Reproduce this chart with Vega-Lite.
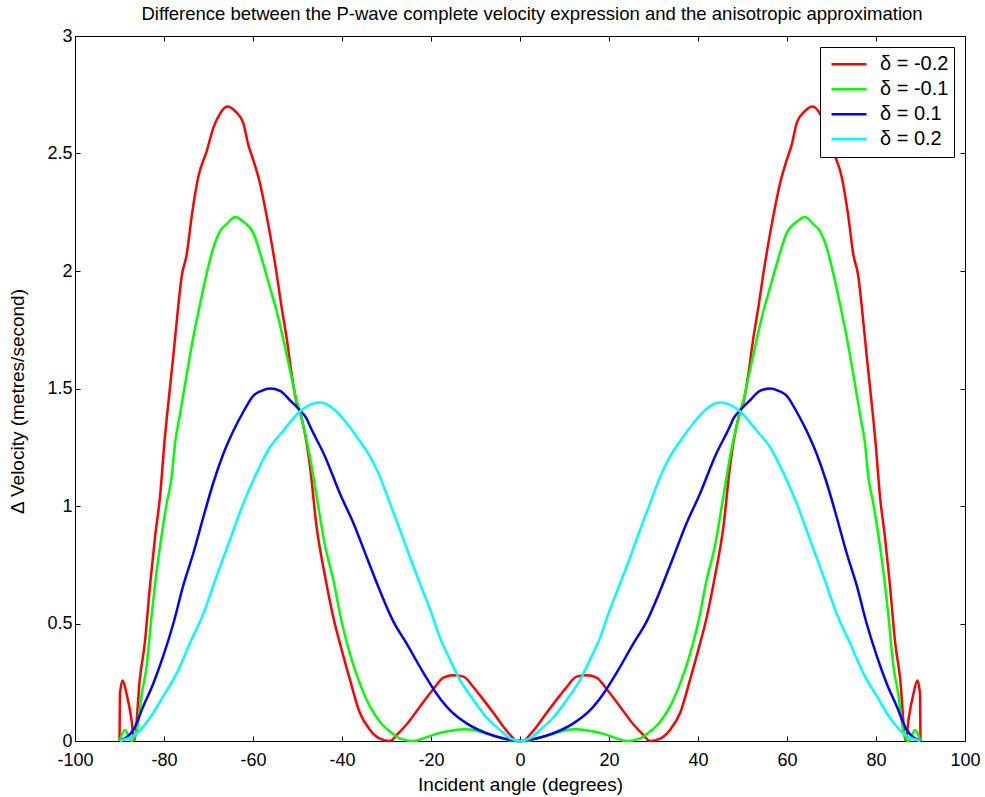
{
  "$schema": "https://vega.github.io/schema/vega-lite/v6.json",
  "width": 890,
  "height": 705,
  "autosize": {"type": "none"},
  "padding": {"left": 75, "top": 36, "right": 20, "bottom": 56},
  "background": "white",
  "title": {"text": "Difference between the P-wave complete velocity expression and the anisotropic approximation", "fontSize": 18.5, "fontWeight": "normal", "font": "Liberation Sans", "offset": 4, "dx": 12, "color": "black"},
  "config": {
    "view": {"stroke": "black", "strokeWidth": 1},
    "axis": {"grid": false, "domainColor": "black", "tickColor": "black", "labelColor": "black", "titleColor": "black", "labelFont": "Liberation Sans", "titleFont": "Liberation Sans", "labelFontSize": 18, "titleFontSize": 19, "titleFontWeight": "normal", "tickSize": -5, "labelPadding": 7, "labelFlush": false, "labelExpr": "'' + datum.value"}
  },
  "data": {"values": [
    {"d":"-0.2","x":-90,"y":0},{"d":"-0.2","x":-89.9,"y":0.2},{"d":"-0.2","x":-89.3,"y":0.257},{"d":"-0.2","x":-88.4,"y":0.2},{"d":"-0.2","x":-87.3,"y":0.09},{"d":"-0.2","x":-86.7,"y":0},{"d":"-0.2","x":-85.4,"y":0.27},{"d":"-0.2","x":-84.3,"y":0.42},{"d":"-0.2","x":-83.1,"y":0.67},{"d":"-0.2","x":-82.0,"y":0.87},{"d":"-0.2","x":-80.9,"y":1.04},{"d":"-0.2","x":-79.9,"y":1.27},{"d":"-0.2","x":-79.4,"y":1.37},{"d":"-0.2","x":-77.9,"y":1.64},{"d":"-0.2","x":-76.8,"y":1.85},{"d":"-0.2","x":-76.0,"y":1.98},{"d":"-0.2","x":-74.9,"y":2.07},{"d":"-0.2","x":-73.8,"y":2.23},{"d":"-0.2","x":-72.3,"y":2.40},{"d":"-0.2","x":-70.4,"y":2.51},{"d":"-0.2","x":-68.9,"y":2.61},{"d":"-0.2","x":-67.4,"y":2.67},{"d":"-0.2","x":-65.8,"y":2.70},{"d":"-0.2","x":-64.0,"y":2.68},{"d":"-0.2","x":-62.2,"y":2.63},{"d":"-0.2","x":-61.1,"y":2.54},{"d":"-0.2","x":-59.9,"y":2.47},{"d":"-0.2","x":-58.4,"y":2.37},{"d":"-0.2","x":-57.3,"y":2.27},{"d":"-0.2","x":-56.2,"y":2.16},{"d":"-0.2","x":-54.7,"y":1.99},{"d":"-0.2","x":-53.6,"y":1.85},{"d":"-0.2","x":-52.4,"y":1.71},{"d":"-0.2","x":-51.3,"y":1.56},{"d":"-0.2","x":-50.2,"y":1.44},{"d":"-0.2","x":-49.6,"y":1.41},{"d":"-0.2","x":-47.2,"y":1.17},{"d":"-0.2","x":-45.7,"y":0.91},{"d":"-0.2","x":-43.8,"y":0.70},{"d":"-0.2","x":-42.0,"y":0.53},{"d":"-0.2","x":-40.1,"y":0.39},{"d":"-0.2","x":-38.2,"y":0.26},{"d":"-0.2","x":-36.0,"y":0.12},{"d":"-0.2","x":-33.7,"y":0.047},{"d":"-0.2","x":-31.5,"y":0.01},{"d":"-0.2","x":-29.2,"y":0},{"d":"-0.2","x":-27.7,"y":0.026},{"d":"-0.2","x":-25.5,"y":0.07},{"d":"-0.2","x":-22.5,"y":0.146},{"d":"-0.2","x":-19.5,"y":0.22},{"d":"-0.2","x":-17.2,"y":0.27},{"d":"-0.2","x":-15.0,"y":0.28},{"d":"-0.2","x":-12.7,"y":0.274},{"d":"-0.2","x":-10.5,"y":0.23},{"d":"-0.2","x":-8.2,"y":0.175},{"d":"-0.2","x":-6.0,"y":0.12},{"d":"-0.2","x":-4.1,"y":0.07},{"d":"-0.2","x":-2.2,"y":0.026},{"d":"-0.2","x":-0.7,"y":0},{"d":"-0.2","x":0,"y":0},
    {"d":"-0.2","x":0.7,"y":0},{"d":"-0.2","x":2.2,"y":0.026},{"d":"-0.2","x":4.1,"y":0.07},{"d":"-0.2","x":6.0,"y":0.12},{"d":"-0.2","x":8.2,"y":0.175},{"d":"-0.2","x":10.5,"y":0.23},{"d":"-0.2","x":12.7,"y":0.274},{"d":"-0.2","x":15.0,"y":0.28},{"d":"-0.2","x":17.2,"y":0.27},{"d":"-0.2","x":19.5,"y":0.22},{"d":"-0.2","x":22.5,"y":0.146},{"d":"-0.2","x":25.5,"y":0.07},{"d":"-0.2","x":27.7,"y":0.026},{"d":"-0.2","x":29.2,"y":0},{"d":"-0.2","x":31.5,"y":0.01},{"d":"-0.2","x":33.7,"y":0.047},{"d":"-0.2","x":36.0,"y":0.12},{"d":"-0.2","x":38.2,"y":0.26},{"d":"-0.2","x":40.1,"y":0.39},{"d":"-0.2","x":42.0,"y":0.53},{"d":"-0.2","x":43.8,"y":0.70},{"d":"-0.2","x":45.7,"y":0.91},{"d":"-0.2","x":47.2,"y":1.17},{"d":"-0.2","x":49.6,"y":1.41},{"d":"-0.2","x":50.2,"y":1.44},{"d":"-0.2","x":51.3,"y":1.56},{"d":"-0.2","x":52.4,"y":1.71},{"d":"-0.2","x":53.6,"y":1.85},{"d":"-0.2","x":54.7,"y":1.99},{"d":"-0.2","x":56.2,"y":2.16},{"d":"-0.2","x":57.3,"y":2.27},{"d":"-0.2","x":58.4,"y":2.37},{"d":"-0.2","x":59.9,"y":2.47},{"d":"-0.2","x":61.1,"y":2.54},{"d":"-0.2","x":62.2,"y":2.63},{"d":"-0.2","x":64.0,"y":2.68},{"d":"-0.2","x":65.8,"y":2.70},{"d":"-0.2","x":67.4,"y":2.67},{"d":"-0.2","x":68.9,"y":2.61},{"d":"-0.2","x":70.4,"y":2.51},{"d":"-0.2","x":72.3,"y":2.40},{"d":"-0.2","x":73.8,"y":2.23},{"d":"-0.2","x":74.9,"y":2.07},{"d":"-0.2","x":76.0,"y":1.98},{"d":"-0.2","x":76.8,"y":1.85},{"d":"-0.2","x":77.9,"y":1.64},{"d":"-0.2","x":79.4,"y":1.37},{"d":"-0.2","x":79.9,"y":1.27},{"d":"-0.2","x":80.9,"y":1.04},{"d":"-0.2","x":82.0,"y":0.87},{"d":"-0.2","x":83.1,"y":0.67},{"d":"-0.2","x":84.3,"y":0.42},{"d":"-0.2","x":85.4,"y":0.27},{"d":"-0.2","x":86.7,"y":0},{"d":"-0.2","x":87.3,"y":0.09},{"d":"-0.2","x":88.4,"y":0.2},{"d":"-0.2","x":89.3,"y":0.257},{"d":"-0.2","x":89.9,"y":0.2},{"d":"-0.2","x":90,"y":0},
    {"d":"-0.1","x":-90,"y":0},{"d":"-0.1","x":-88.8,"y":0.047},{"d":"-0.1","x":-87.3,"y":0},{"d":"-0.1","x":-86.1,"y":0.047},{"d":"-0.1","x":-85.0,"y":0.20},{"d":"-0.1","x":-83.9,"y":0.32},{"d":"-0.1","x":-82.8,"y":0.53},{"d":"-0.1","x":-81.6,"y":0.73},{"d":"-0.1","x":-80.5,"y":0.88},{"d":"-0.1","x":-79.4,"y":1.01},{"d":"-0.1","x":-78.3,"y":1.12},{"d":"-0.1","x":-77.5,"y":1.27},{"d":"-0.1","x":-76.4,"y":1.39},{"d":"-0.1","x":-74.9,"y":1.56},{"d":"-0.1","x":-73.4,"y":1.72},{"d":"-0.1","x":-71.9,"y":1.86},{"d":"-0.1","x":-70.4,"y":1.99},{"d":"-0.1","x":-68.9,"y":2.10},{"d":"-0.1","x":-67.4,"y":2.17},{"d":"-0.1","x":-65.9,"y":2.20},{"d":"-0.1","x":-64.0,"y":2.23},{"d":"-0.1","x":-62.2,"y":2.21},{"d":"-0.1","x":-59.9,"y":2.16},{"d":"-0.1","x":-57.7,"y":2.03},{"d":"-0.1","x":-56.2,"y":1.93},{"d":"-0.1","x":-54.7,"y":1.83},{"d":"-0.1","x":-53.2,"y":1.71},{"d":"-0.1","x":-51.7,"y":1.58},{"d":"-0.1","x":-50.2,"y":1.45},{"d":"-0.1","x":-49.6,"y":1.41},{"d":"-0.1","x":-47.2,"y":1.21},{"d":"-0.1","x":-45.7,"y":1.04},{"d":"-0.1","x":-43.8,"y":0.83},{"d":"-0.1","x":-42.0,"y":0.69},{"d":"-0.1","x":-40.1,"y":0.51},{"d":"-0.1","x":-38.2,"y":0.37},{"d":"-0.1","x":-36.0,"y":0.245},{"d":"-0.1","x":-33.7,"y":0.146},{"d":"-0.1","x":-31.5,"y":0.082},{"d":"-0.1","x":-29.2,"y":0.04},{"d":"-0.1","x":-27.0,"y":0.011},{"d":"-0.1","x":-24.0,"y":0},{"d":"-0.1","x":-21.7,"y":0.011},{"d":"-0.1","x":-19.5,"y":0.026},{"d":"-0.1","x":-16.5,"y":0.04},{"d":"-0.1","x":-12.7,"y":0.05},{"d":"-0.1","x":-9.7,"y":0.044},{"d":"-0.1","x":-6.7,"y":0.026},{"d":"-0.1","x":-3.7,"y":0.011},{"d":"-0.1","x":-1.5,"y":0},{"d":"-0.1","x":0,"y":0},
    {"d":"-0.1","x":1.5,"y":0},{"d":"-0.1","x":3.7,"y":0.011},{"d":"-0.1","x":6.7,"y":0.026},{"d":"-0.1","x":9.7,"y":0.044},{"d":"-0.1","x":12.7,"y":0.05},{"d":"-0.1","x":16.5,"y":0.04},{"d":"-0.1","x":19.5,"y":0.026},{"d":"-0.1","x":21.7,"y":0.011},{"d":"-0.1","x":24.0,"y":0},{"d":"-0.1","x":27.0,"y":0.011},{"d":"-0.1","x":29.2,"y":0.04},{"d":"-0.1","x":31.5,"y":0.082},{"d":"-0.1","x":33.7,"y":0.146},{"d":"-0.1","x":36.0,"y":0.245},{"d":"-0.1","x":38.2,"y":0.37},{"d":"-0.1","x":40.1,"y":0.51},{"d":"-0.1","x":42.0,"y":0.69},{"d":"-0.1","x":43.8,"y":0.83},{"d":"-0.1","x":45.7,"y":1.04},{"d":"-0.1","x":47.2,"y":1.21},{"d":"-0.1","x":49.6,"y":1.41},{"d":"-0.1","x":50.2,"y":1.45},{"d":"-0.1","x":51.7,"y":1.58},{"d":"-0.1","x":53.2,"y":1.71},{"d":"-0.1","x":54.7,"y":1.83},{"d":"-0.1","x":56.2,"y":1.93},{"d":"-0.1","x":57.7,"y":2.03},{"d":"-0.1","x":59.9,"y":2.16},{"d":"-0.1","x":62.2,"y":2.21},{"d":"-0.1","x":64.0,"y":2.23},{"d":"-0.1","x":65.9,"y":2.20},{"d":"-0.1","x":67.4,"y":2.17},{"d":"-0.1","x":68.9,"y":2.10},{"d":"-0.1","x":70.4,"y":1.99},{"d":"-0.1","x":71.9,"y":1.86},{"d":"-0.1","x":73.4,"y":1.72},{"d":"-0.1","x":74.9,"y":1.56},{"d":"-0.1","x":76.4,"y":1.39},{"d":"-0.1","x":77.5,"y":1.27},{"d":"-0.1","x":78.3,"y":1.12},{"d":"-0.1","x":79.4,"y":1.01},{"d":"-0.1","x":80.5,"y":0.88},{"d":"-0.1","x":81.6,"y":0.73},{"d":"-0.1","x":82.8,"y":0.53},{"d":"-0.1","x":83.9,"y":0.32},{"d":"-0.1","x":85.0,"y":0.20},{"d":"-0.1","x":86.1,"y":0.047},{"d":"-0.1","x":87.3,"y":0},{"d":"-0.1","x":88.8,"y":0.047},{"d":"-0.1","x":90,"y":0},
    {"d":"0.1","x":-90,"y":0},{"d":"0.1","x":-86.9,"y":0.047},{"d":"0.1","x":-84.7,"y":0.146},{"d":"0.1","x":-82.4,"y":0.245},{"d":"0.1","x":-80.2,"y":0.36},{"d":"0.1","x":-77.9,"y":0.50},{"d":"0.1","x":-75.7,"y":0.66},{"d":"0.1","x":-73.4,"y":0.80},{"d":"0.1","x":-71.2,"y":0.95},{"d":"0.1","x":-68.9,"y":1.10},{"d":"0.1","x":-66.7,"y":1.22},{"d":"0.1","x":-64.4,"y":1.32},{"d":"0.1","x":-62.2,"y":1.40},{"d":"0.1","x":-59.9,"y":1.47},{"d":"0.1","x":-58.1,"y":1.49},{"d":"0.1","x":-56.2,"y":1.50},{"d":"0.1","x":-53.9,"y":1.49},{"d":"0.1","x":-51.7,"y":1.45},{"d":"0.1","x":-49.6,"y":1.41},{"d":"0.1","x":-47.9,"y":1.37},{"d":"0.1","x":-47.2,"y":1.34},{"d":"0.1","x":-43.8,"y":1.21},{"d":"0.1","x":-40.4,"y":1.05},{"d":"0.1","x":-37.5,"y":0.93},{"d":"0.1","x":-34.4,"y":0.78},{"d":"0.1","x":-31.5,"y":0.64},{"d":"0.1","x":-28.5,"y":0.51},{"d":"0.1","x":-25.5,"y":0.415},{"d":"0.1","x":-21.7,"y":0.29},{"d":"0.1","x":-18.7,"y":0.20},{"d":"0.1","x":-15.7,"y":0.13},{"d":"0.1","x":-12.0,"y":0.075},{"d":"0.1","x":-7.5,"y":0.033},{"d":"0.1","x":-3.7,"y":0.011},{"d":"0.1","x":0,"y":0},
    {"d":"0.1","x":3.7,"y":0.011},{"d":"0.1","x":7.5,"y":0.033},{"d":"0.1","x":12.0,"y":0.075},{"d":"0.1","x":15.7,"y":0.13},{"d":"0.1","x":18.7,"y":0.20},{"d":"0.1","x":21.7,"y":0.29},{"d":"0.1","x":25.5,"y":0.415},{"d":"0.1","x":28.5,"y":0.51},{"d":"0.1","x":31.5,"y":0.64},{"d":"0.1","x":34.4,"y":0.78},{"d":"0.1","x":37.5,"y":0.93},{"d":"0.1","x":40.4,"y":1.05},{"d":"0.1","x":43.8,"y":1.21},{"d":"0.1","x":47.2,"y":1.34},{"d":"0.1","x":47.9,"y":1.37},{"d":"0.1","x":49.6,"y":1.41},{"d":"0.1","x":51.7,"y":1.45},{"d":"0.1","x":53.9,"y":1.49},{"d":"0.1","x":56.2,"y":1.50},{"d":"0.1","x":58.1,"y":1.49},{"d":"0.1","x":59.9,"y":1.47},{"d":"0.1","x":62.2,"y":1.40},{"d":"0.1","x":64.4,"y":1.32},{"d":"0.1","x":66.7,"y":1.22},{"d":"0.1","x":68.9,"y":1.10},{"d":"0.1","x":71.2,"y":0.95},{"d":"0.1","x":73.4,"y":0.80},{"d":"0.1","x":75.7,"y":0.66},{"d":"0.1","x":77.9,"y":0.50},{"d":"0.1","x":80.2,"y":0.36},{"d":"0.1","x":82.4,"y":0.245},{"d":"0.1","x":84.7,"y":0.146},{"d":"0.1","x":86.9,"y":0.047},{"d":"0.1","x":90,"y":0},
    {"d":"0.2","x":-90,"y":0},{"d":"0.2","x":-86.1,"y":0.033},{"d":"0.2","x":-83.1,"y":0.10},{"d":"0.2","x":-80.2,"y":0.19},{"d":"0.2","x":-77.1,"y":0.29},{"d":"0.2","x":-74.2,"y":0.415},{"d":"0.2","x":-71.2,"y":0.54},{"d":"0.2","x":-68.2,"y":0.70},{"d":"0.2","x":-65.2,"y":0.855},{"d":"0.2","x":-62.2,"y":1.01},{"d":"0.2","x":-59.2,"y":1.14},{"d":"0.2","x":-56.2,"y":1.25},{"d":"0.2","x":-53.2,"y":1.32},{"d":"0.2","x":-49.6,"y":1.40},{"d":"0.2","x":-47.2,"y":1.43},{"d":"0.2","x":-44.9,"y":1.44},{"d":"0.2","x":-42.0,"y":1.415},{"d":"0.2","x":-39.7,"y":1.37},{"d":"0.2","x":-36.7,"y":1.295},{"d":"0.2","x":-33.7,"y":1.21},{"d":"0.2","x":-31.5,"y":1.125},{"d":"0.2","x":-29.2,"y":1.01},{"d":"0.2","x":-27.0,"y":0.90},{"d":"0.2","x":-24.7,"y":0.78},{"d":"0.2","x":-22.5,"y":0.67},{"d":"0.2","x":-20.2,"y":0.56},{"d":"0.2","x":-18.0,"y":0.44},{"d":"0.2","x":-15.7,"y":0.345},{"d":"0.2","x":-13.5,"y":0.26},{"d":"0.2","x":-10.5,"y":0.175},{"d":"0.2","x":-7.5,"y":0.10},{"d":"0.2","x":-4.5,"y":0.047},{"d":"0.2","x":-2.2,"y":0.011},{"d":"0.2","x":0,"y":0},
    {"d":"0.2","x":2.2,"y":0.011},{"d":"0.2","x":4.5,"y":0.047},{"d":"0.2","x":7.5,"y":0.10},{"d":"0.2","x":10.5,"y":0.175},{"d":"0.2","x":13.5,"y":0.26},{"d":"0.2","x":15.7,"y":0.345},{"d":"0.2","x":18.0,"y":0.44},{"d":"0.2","x":20.2,"y":0.56},{"d":"0.2","x":22.5,"y":0.67},{"d":"0.2","x":24.7,"y":0.78},{"d":"0.2","x":27.0,"y":0.90},{"d":"0.2","x":29.2,"y":1.01},{"d":"0.2","x":31.5,"y":1.125},{"d":"0.2","x":33.7,"y":1.21},{"d":"0.2","x":36.7,"y":1.295},{"d":"0.2","x":39.7,"y":1.37},{"d":"0.2","x":42.0,"y":1.415},{"d":"0.2","x":44.9,"y":1.44},{"d":"0.2","x":47.2,"y":1.43},{"d":"0.2","x":49.6,"y":1.40},{"d":"0.2","x":53.2,"y":1.32},{"d":"0.2","x":56.2,"y":1.25},{"d":"0.2","x":59.2,"y":1.14},{"d":"0.2","x":62.2,"y":1.01},{"d":"0.2","x":65.2,"y":0.855},{"d":"0.2","x":68.2,"y":0.70},{"d":"0.2","x":71.2,"y":0.54},{"d":"0.2","x":74.2,"y":0.415},{"d":"0.2","x":77.1,"y":0.29},{"d":"0.2","x":80.2,"y":0.19},{"d":"0.2","x":83.1,"y":0.10},{"d":"0.2","x":86.1,"y":0.033},{"d":"0.2","x":90,"y":0}
  ]},
  "layer": [
    {
      "mark": {"type": "line", "strokeWidth": 2.5, "interpolate": "monotone"},
      "encoding": {
        "x": {"field": "x", "type": "quantitative", "scale": {"domain": [-100, 100], "nice": false, "zero": false},
              "axis": {"values": [-100,-80,-60,-40,-20,0,20,40,60,80,100], "title": "Incident angle (degrees)", "titlePadding": 6, "labelPadding": 15}},
        "y": {"field": "y", "type": "quantitative", "scale": {"domain": [0, 3], "nice": false},
              "axis": {"values": [0,0.5,1,1.5,2,2.5,3], "title": "Δ Velocity (metres/second)", "titlePadding": 19, "titleY": 365, "labelPadding": 8}},
        "color": {"field": "d", "type": "nominal",
                  "scale": {"domain": ["-0.2","-0.1","0.1","0.2"], "range": ["#ff0000","#00ff00","#0000ff","#00ffff"]},
                  "legend": {"title": null, "orient": "top-right", "offset": 11, "fillColor": "white", "strokeColor": "black", "padding": 5, "clipHeight": 24.6,
                             "symbolType": "stroke", "symbolStrokeWidth": 2.5, "symbolSize": 1225, "symbolOffset": 5, "labelFontSize": 20, "labelFont": "Liberation Sans", "labelColor": "black",
                             "labelExpr": "'δ = ' + datum.label + '\u00a0\u00a0'", "rowPadding": 0, "labelOffset": 12}}
      }
    },
    {
      "mark": {"type": "line", "opacity": 0},
      "encoding": {
        "x": {"field": "x", "type": "quantitative", "axis": {"orient": "top", "values": [-100,-80,-60,-40,-20,0,20,40,60,80,100], "labels": false, "title": null}},
        "y": {"field": "y", "type": "quantitative", "axis": {"orient": "right", "values": [0,0.5,1,1.5,2,2.5,3], "labels": false, "title": null}}
      }
    }
  ],
  "resolve": {"axis": {"x": "independent", "y": "independent"}}
}
